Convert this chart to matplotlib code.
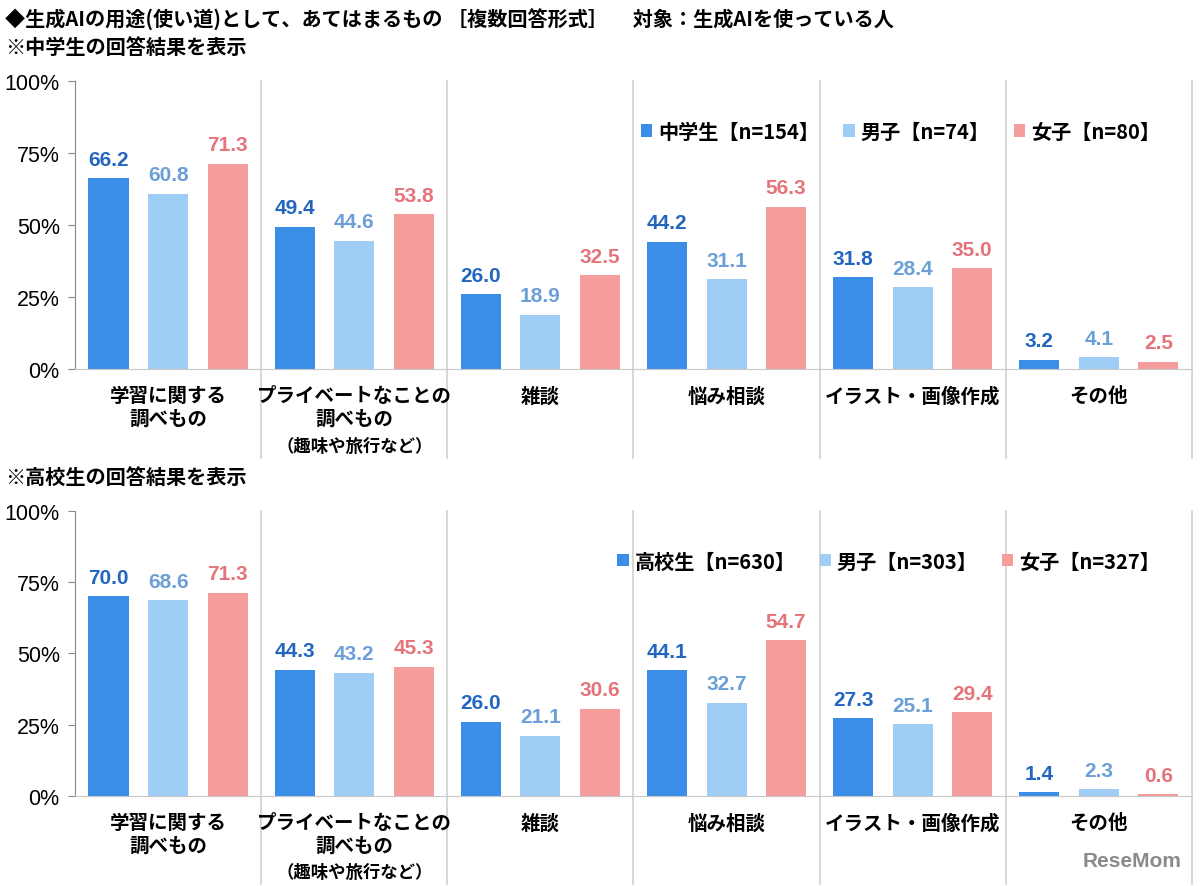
import matplotlib
matplotlib.use('Agg')
import matplotlib.pyplot as plt
import matplotlib.transforms as mtransforms
import numpy as np

plt.rcParams['font.family'] = ['Noto Sans CJK JP', 'DejaVu Sans']

# データ
categories = ['学習に関する\n調べもの', 'プライベートなことの\n調べもの', '雑談', '悩み相談', 'イラスト・画像作成', 'その他']
sub_notes = ['', '（趣味や旅行など）', '', '', '', '']

jhs_all = [66.2, 49.4, 26.0, 44.2, 31.8, 3.2]
jhs_boys = [60.8, 44.6, 18.9, 31.1, 28.4, 4.1]
jhs_girls = [71.3, 53.8, 32.5, 56.3, 35.0, 2.5]
jhs_legend = ['中学生【n=154】', '男子【n=74】', '女子【n=80】']

hs_all = [70.0, 44.3, 26.0, 44.1, 27.3, 1.4]
hs_boys = [68.6, 43.2, 21.1, 32.7, 25.1, 2.3]
hs_girls = [71.3, 45.3, 30.6, 54.7, 29.4, 0.6]
hs_legend = ['高校生【n=630】', '男子【n=303】', '女子【n=327】']

yticks = [0, 25, 50, 75, 100]

bar_colors = ['#3a8ee8', '#a0cdf5', '#f59c9c']
text_colors = ['#2366c0', '#6b9fd6', '#e4747a']
grid_color = '#d0d0d0'
latin = ['Liberation Sans', 'DejaVu Sans']

fig = plt.figure(figsize=(12, 8.87), dpi=100)


def draw_panel(ax, series, legend_labels):
    x = np.arange(len(categories))
    width = 0.215
    offsets = [-0.32, 0.0, 0.32]
    handles = []
    for vals, off, col, tcol, lab in zip(series, offsets, bar_colors, text_colors, legend_labels):
        bars = ax.bar(x + off, vals, width=width, color=col, label=lab)
        handles.append(bars)
        for b, v in zip(bars, vals):
            ax.text(b.get_x() + b.get_width() / 2, v + 3.3, f'{v:.1f}',
                    ha='center', va='bottom', fontsize=15, fontweight='bold',
                    color=tcol, family=latin)

    ax.set_xlim(-0.5, len(categories) - 0.5)
    ax.set_ylim(0, 100)
    ax.set_yticks(yticks)
    ax.set_yticklabels([f'{t}%' for t in yticks], fontsize=15.5, family=latin)
    ax.set_xticks([])
    ax.tick_params(axis='y', length=5, color='#888888', pad=6)

    for s in ['top', 'right']:
        ax.spines[s].set_visible(False)
    ax.spines['left'].set_color('#888888')
    ax.spines['bottom'].set_color('#c8c8c8')

    trans = mtransforms.blended_transform_factory(ax.transData, ax.transAxes)
    for i in range(1, len(categories) + 1):
        ax.plot([i - 0.5, i - 0.5], [-0.31, 1.0], transform=trans,
                color=grid_color, lw=1.2, clip_on=False, zorder=0)

    for i, (cat, note) in enumerate(zip(categories, sub_notes)):
        ax.text(i, -0.06, cat, transform=trans, ha='center', va='top',
                fontsize=14, fontweight='bold', linespacing=1.25)
        if note:
            ax.text(i, -0.235, note, transform=trans, ha='center', va='top',
                    fontsize=12.5, fontweight='bold')

    ax.legend(handles=handles, loc='upper right', bbox_to_anchor=(0.9875, 0.925),
              ncol=3, frameon=False, handlelength=0.55, handleheight=0.55,
              handletextpad=0.3, columnspacing=1.2,
              prop={'weight': 'bold', 'size': 14.5, 'family': ['Noto Sans CJK JP', 'DejaVu Sans']})


ax1 = fig.add_axes([0.0625, 0.5829, 0.9308, 0.3247])
draw_panel(ax1, [jhs_all, jhs_boys, jhs_girls], jhs_legend)

ax2 = fig.add_axes([0.0625, 0.1015, 0.9308, 0.3213])
draw_panel(ax2, [hs_all, hs_boys, hs_girls], hs_legend)

fig.text(0.004, 1 - 20 / 887, '◆生成AIの用途(使い道)として、あてはまるもの ［複数回答形式］　 対象：生成AIを使っている人',
         fontsize=14.5, fontweight='bold', va='center', ha='left')
fig.text(0.004, 1 - 47 / 887, '※中学生の回答結果を表示',
         fontsize=14.5, fontweight='bold', va='center', ha='left')
fig.text(0.004, 1 - 477 / 887, '※高校生の回答結果を表示',
         fontsize=14.5, fontweight='bold', va='center', ha='left')

fig.text(0.985, 1 - 862 / 887, 'ReseMom', fontsize=15, fontweight='bold',
         color='#8a8a8a', ha='right', va='center', family=latin)

fig.savefig('out.png', dpi=100)
